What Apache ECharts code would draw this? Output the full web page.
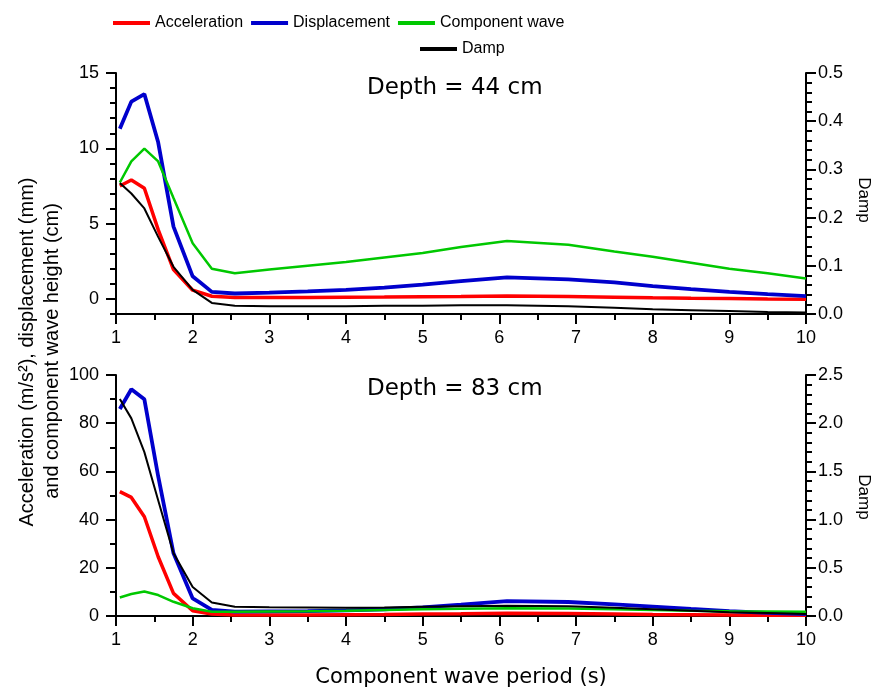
<!DOCTYPE html>
<html>
<head>
<meta charset="utf-8">
<script src="https://cdn.jsdelivr.net/npm/echarts@6/dist/echarts.min.js"></script>
<style>html,body{margin:0;padding:0;background:#fff;}#c{width:872px;height:693px;}</style>
</head>
<body>
<div id="c"></div>
<script>
// Component wave periods (s)
const periods = [1.05, 1.2, 1.37, 1.55, 1.75, 2.0, 2.25, 2.55, 3.0, 3.5, 4.0, 4.5, 5.0, 5.5, 6.1, 6.9, 7.5, 8.0, 8.5, 9.0, 9.5, 10.0];

// Depth = 44 cm
const accel44 = [7.5, 7.9, 7.35, 4.6, 1.95, 0.58, 0.18, 0.09, 0.1, 0.1, 0.12, 0.13, 0.15, 0.17, 0.2, 0.17, 0.12, 0.08, 0.05, 0.03, 0.0, -0.02];
const disp44  = [11.3, 13.1, 13.6, 10.4, 4.8, 1.5, 0.47, 0.36, 0.42, 0.5, 0.6, 0.75, 0.95, 1.18, 1.43, 1.3, 1.1, 0.85, 0.65, 0.47, 0.32, 0.18];
const wave44  = [7.73, 9.13, 9.98, 9.13, 6.7, 3.7, 2.0, 1.7, 1.95, 2.2, 2.45, 2.75, 3.05, 3.45, 3.85, 3.6, 3.15, 2.8, 2.4, 2.0, 1.7, 1.36];
const damp44  = [0.272, 0.25, 0.219, 0.16, 0.098, 0.05, 0.023, 0.017, 0.016, 0.016, 0.016, 0.017, 0.017, 0.018, 0.018, 0.016, 0.013, 0.01, 0.008, 0.006, 0.004, 0.003];

// Depth = 83 cm
const accel83 = [51.6, 49.2, 41.2, 24.6, 9.4, 2.2, 0.8, 0.4, 0.4, 0.4, 0.5, 0.6, 0.8, 0.9, 1.1, 1.0, 0.8, 0.6, 0.5, 0.4, 0.3, 0.3];
const disp83  = [85.9, 94.1, 89.9, 58, 26, 7.3, 2.5, 1.8, 1.9, 2.0, 2.3, 2.8, 3.6, 4.7, 6.2, 5.8, 4.8, 3.9, 2.9, 2.0, 1.3, 0.8];
const wave83  = [7.7, 9.1, 10.2, 8.7, 5.9, 3.2, 1.8, 1.8, 1.9, 2.0, 2.2, 2.5, 2.8, 3.0, 3.2, 3.1, 2.8, 2.5, 2.2, 2.0, 1.9, 1.8];
const damp83  = [2.25, 2.05, 1.70, 1.2, 0.65, 0.30, 0.14, 0.097, 0.09, 0.088, 0.086, 0.088, 0.095, 0.1, 0.107, 0.1, 0.085, 0.07, 0.055, 0.04, 0.03, 0.02];

// Tick labels
const xTicks = [1, 2, 3, 4, 5, 6, 7, 8, 9, 10];
const yTopTicks = [0, 5, 10, 15];

const seriesNames = ['Acceleration', 'Displacement', 'Component wave', 'Damp'];
const titles = ['Depth = 44 cm', 'Depth = 83 cm'];

const pair = arr => periods.map((p, i) => [p, arr[i]]);

const colors = {Acceleration: '#ff0000', Displacement: '#0000cc', 'Component wave': '#00c800', Damp: '#000000'};
const widths = {Acceleration: 3.5, Displacement: 3.8, 'Component wave': 2.5, Damp: 2};

function line(name, data, xi, yi) {
  return {
    name, type: 'line', data: pair(data), xAxisIndex: xi, yAxisIndex: yi,
    showSymbol: false, symbol: 'none', silent: true,
    lineStyle: {color: colors[name], width: widths[name]},
    itemStyle: {color: colors[name]}
  };
}

const tickFont = {fontFamily: 'Liberation Sans', fontSize: 18, color: '#000'};
const axLine = {show: true, lineStyle: {color: '#000', width: 2}};

function xAxis(gi) {
  return {
    type: 'value', gridIndex: gi, min: 1, max: 10, interval: 1,
    axisLine: {show: true, onZero: false, lineStyle: {color: '#000', width: 2}},
    axisTick: {show: true, inside: false, length: 10, lineStyle: {width: 2}},
    minorTick: {show: true, splitNumber: 2, length: 6, lineStyle: {color: '#000', width: 2}},
    axisLabel: Object.assign({margin: 15, formatter: v => (xTicks.includes(v) ? String(v) : '')}, tickFont),
    splitLine: {show: false}
  };
}

const legendText = {fontFamily: 'Liberation Sans', fontSize: 16, color: '#000'};

const chart = echarts.init(document.getElementById('c'), null, {renderer: 'canvas'});
chart.setOption({
  animation: false,
  backgroundColor: '#fff',
  grid: [
    {left: 116, top: 73, width: 690, height: 241},
    {left: 116, top: 375, width: 690, height: 241}
  ],
  legend: [
    {data: seriesNames.slice(0, 3), left: 113, top: 15, padding: 0, icon: 'rect', itemWidth: 37, itemHeight: 4, itemGap: 8,
     textStyle: legendText, selectedMode: false},
    {data: ['Damp'], left: 420, top: 41, padding: 0, icon: 'rect', itemWidth: 37, itemHeight: 4,
     textStyle: legendText, selectedMode: false}
  ],
  xAxis: [xAxis(0), xAxis(1)],
  yAxis: [
    // 0: top left, major ticks + labels
    {type: 'value', gridIndex: 0, position: 'left', min: -1, max: 15,
     axisLine: axLine,
     axisTick: {show: true, inside: false, length: 10, customValues: yTopTicks, lineStyle: {width: 2}},
     axisLabel: Object.assign({margin: 17, customValues: yTopTicks}, tickFont),
     splitLine: {show: false}},
    // 1: top right damp
    {type: 'value', gridIndex: 0, position: 'right', min: 0, max: 0.5, interval: 0.1,
     axisLine: axLine,
     axisTick: {show: true, inside: false, length: 10, lineStyle: {width: 2}},
     minorTick: {show: true, splitNumber: 5, length: 6, lineStyle: {color: '#000', width: 2}},
     axisLabel: Object.assign({margin: 12, formatter: v => v.toFixed(1)}, tickFont),
     splitLine: {show: false}},
    // 2: top left minor ticks
    {type: 'value', gridIndex: 0, position: 'left', min: -1, max: 15, interval: 1,
     axisLine: {show: false},
     axisTick: {show: true, inside: false, length: 6, lineStyle: {color: '#000', width: 2}},
     axisLabel: {show: false}, splitLine: {show: false}},
    // 3: bottom left
    {type: 'value', gridIndex: 1, position: 'left', min: 0, max: 100, interval: 20,
     axisLine: axLine,
     axisTick: {show: true, inside: false, length: 10, lineStyle: {width: 2}},
     minorTick: {show: true, splitNumber: 2, length: 6, lineStyle: {color: '#000', width: 2}},
     axisLabel: Object.assign({margin: 17}, tickFont),
     splitLine: {show: false}},
    // 4: bottom right damp
    {type: 'value', gridIndex: 1, position: 'right', min: 0, max: 2.5, interval: 0.5,
     axisLine: axLine,
     axisTick: {show: true, inside: false, length: 10, lineStyle: {width: 2}},
     minorTick: {show: true, splitNumber: 5, length: 6, lineStyle: {color: '#000', width: 2}},
     axisLabel: Object.assign({margin: 12, formatter: v => v.toFixed(1)}, tickFont),
     splitLine: {show: false}}
  ],
  series: [
    line('Acceleration', accel44, 0, 0),
    line('Displacement', disp44, 0, 0),
    line('Component wave', wave44, 0, 0),
    line('Damp', damp44, 0, 1),
    line('Acceleration', accel83, 1, 3),
    line('Displacement', disp83, 1, 3),
    line('Component wave', wave83, 1, 3),
    line('Damp', damp83, 1, 4)
  ],
  graphic: [
    {type: 'text', left: 367, top: 77, style: {text: titles[0], font: '23px "DejaVu Sans"', fill: '#000'}},
    {type: 'text', left: 367, top: 378, style: {text: titles[1], font: '23px "DejaVu Sans"', fill: '#000'}},
    {type: 'text', x: 461, y: 678, style: {text: 'Component wave period (s)', font: '21px "DejaVu Sans"', fill: '#000', align: 'center', verticalAlign: 'middle'}},
    {type: 'text', x: 27, y: 352, rotation: Math.PI / 2, style: {text: 'Acceleration (m/s²), displacement (mm)', font: '20px "Liberation Sans"', fill: '#000', align: 'center', verticalAlign: 'middle'}},
    {type: 'text', x: 52, y: 351, rotation: Math.PI / 2, style: {text: 'and component wave height (cm)', font: '20px "Liberation Sans"', fill: '#000', align: 'center', verticalAlign: 'middle'}},
    {type: 'text', x: 864, y: 200, rotation: -Math.PI / 2, style: {text: 'Damp', font: '17px "Liberation Sans"', fill: '#000', align: 'center', verticalAlign: 'middle'}},
    {type: 'text', x: 864, y: 497, rotation: -Math.PI / 2, style: {text: 'Damp', font: '17px "Liberation Sans"', fill: '#000', align: 'center', verticalAlign: 'middle'}}
  ]
});
</script>
</body>
</html>
